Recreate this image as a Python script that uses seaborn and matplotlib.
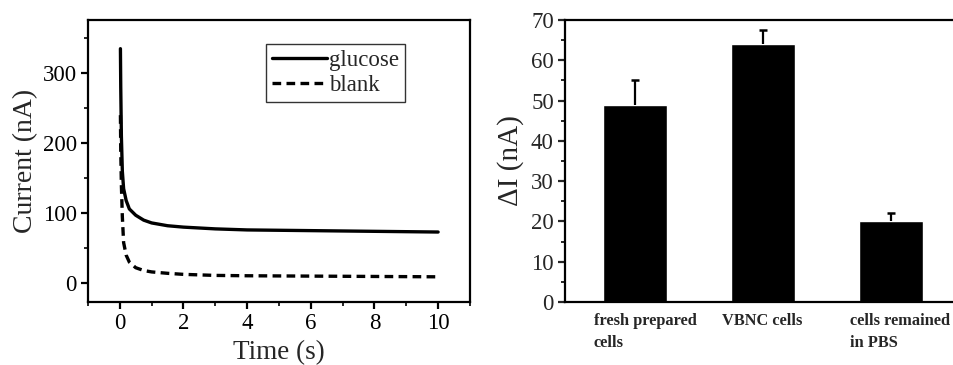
import matplotlib
matplotlib.use("Agg")
import matplotlib.pyplot as plt
import matplotlib.transforms as mtransforms
import pandas as pd
import seaborn as sns
from matplotlib.ticker import MultipleLocator

# chronoamperometry curves
glucose_t = [0.02, 0.03, 0.05, 0.08, 0.12, 0.2, 0.3, 0.5, 0.75, 1.0, 1.5,
             2, 3, 4, 5, 6, 7, 8, 9, 10]
glucose_i = [335, 280, 210, 160, 135, 118, 106, 97, 90, 86, 82,
             80, 77.5, 76, 75.5, 75, 74.5, 74, 73.5, 73]
blank_t = [0.02, 0.03, 0.05, 0.08, 0.12, 0.2, 0.3, 0.5, 0.75, 1.0, 1.5,
           2, 3, 4, 6, 8, 10]
blank_i = [240, 190, 140, 95, 58, 40, 30, 22, 18, 16, 14,
           12.5, 11, 10.5, 10, 9.5, 9]

# bar chart
groups = ["fresh prepared\ncells", "VBNC cells", "cells remained\nin PBS"]
delta_i = [49, 64, 20]
delta_err = [6, 3.5, 2]


def main() -> None:
    sns.set_theme(style="ticks")
    plt.rcParams["font.family"] = ["Liberation Serif", "DejaVu Serif"]
    plt.rcParams["axes.linewidth"] = 1.6

    fig = plt.figure(figsize=(9.54, 3.65), dpi=100)
    ax1 = fig.add_axes([0.0922, 0.1726, 0.4004, 0.7726])
    ax2 = fig.add_axes([0.5922, 0.1726, 0.414, 0.7726])

    curves = pd.concat([
        pd.DataFrame({"t": glucose_t, "i": glucose_i, "kind": "glucose"}),
        pd.DataFrame({"t": blank_t, "i": blank_i, "kind": "blank"}),
    ])
    sns.lineplot(data=curves, x="t", y="i", style="kind", color="black",
                 linewidth=2.4, dashes=["", (2.6, 1.6)], ax=ax1,
                 estimator=None, sort=False)
    ax1.set_xlim(-1, 11)
    ax1.set_ylim(-27, 376)
    ax1.xaxis.set_major_locator(MultipleLocator(2))
    ax1.xaxis.set_minor_locator(MultipleLocator(1))
    ax1.yaxis.set_major_locator(MultipleLocator(100))
    ax1.yaxis.set_minor_locator(MultipleLocator(50))
    ax1.set_xlabel("Time (s)", fontsize=19.5, labelpad=4)
    ax1.set_ylabel("Current (nA)", fontsize=20, labelpad=3)
    ax1.tick_params(which="major", length=5, width=1.6, labelsize=16.5,
                    colors="black", pad=3)
    ax1.tick_params(which="minor", length=3, width=1.4)
    leg = ax1.legend(loc="upper right", bbox_to_anchor=(0.83, 0.915),
                     fontsize=16.5, frameon=True, fancybox=False,
                     edgecolor="black", handlelength=2.4, handletextpad=0.1,
                     borderpad=0.25, labelspacing=0.2, borderaxespad=0)
    leg.get_frame().set_linewidth(1.0)
    leg.set_title(None)

    bars = pd.DataFrame({"group": groups, "val": delta_i})
    sns.barplot(data=bars, x="group", y="val", color="black", width=0.5,
                saturation=1, errorbar=None, ax=ax2)
    eb = ax2.errorbar(range(len(groups)), delta_i,
                      yerr=[[0] * len(groups), delta_err], fmt="none",
                      ecolor="black", elinewidth=1.6, capsize=2.8,
                      capthick=1.8)
    # keep only the upper caps
    for cap in eb[1]:
        if list(cap.get_ydata()) == list(delta_i):
            cap.set_visible(False)
    ax2.set_xlim(-0.547, 2.54)
    ax2.set_ylim(0, 70)
    ax2.yaxis.set_major_locator(MultipleLocator(10))
    ax2.yaxis.set_minor_locator(MultipleLocator(5))
    ax2.set_xlabel("")
    ax2.set_ylabel("ΔI (nA)", fontsize=21, labelpad=5)
    ax2.tick_params(axis="y", which="major", length=5, width=1.6,
                    labelsize=16.5, pad=3)
    ax2.tick_params(axis="y", which="minor", length=3, width=1.4)
    ax2.tick_params(axis="x", length=0, labelsize=11.8, pad=8)
    offset = mtransforms.ScaledTranslation(-0.41, 0, fig.dpi_scale_trans)
    for lab in ax2.get_xticklabels():
        lab.set_horizontalalignment("left")
        lab.set_verticalalignment("top")
        lab.set_fontweight("bold")
        lab.set_linespacing(1.45)
        lab.set_transform(lab.get_transform() + offset)

    for ax in (ax1, ax2):
        for sp in ax.spines.values():
            sp.set_visible(True)
            sp.set_color("black")

    fig.savefig("out.png", dpi=100)


if __name__ == "__main__":
    main()
